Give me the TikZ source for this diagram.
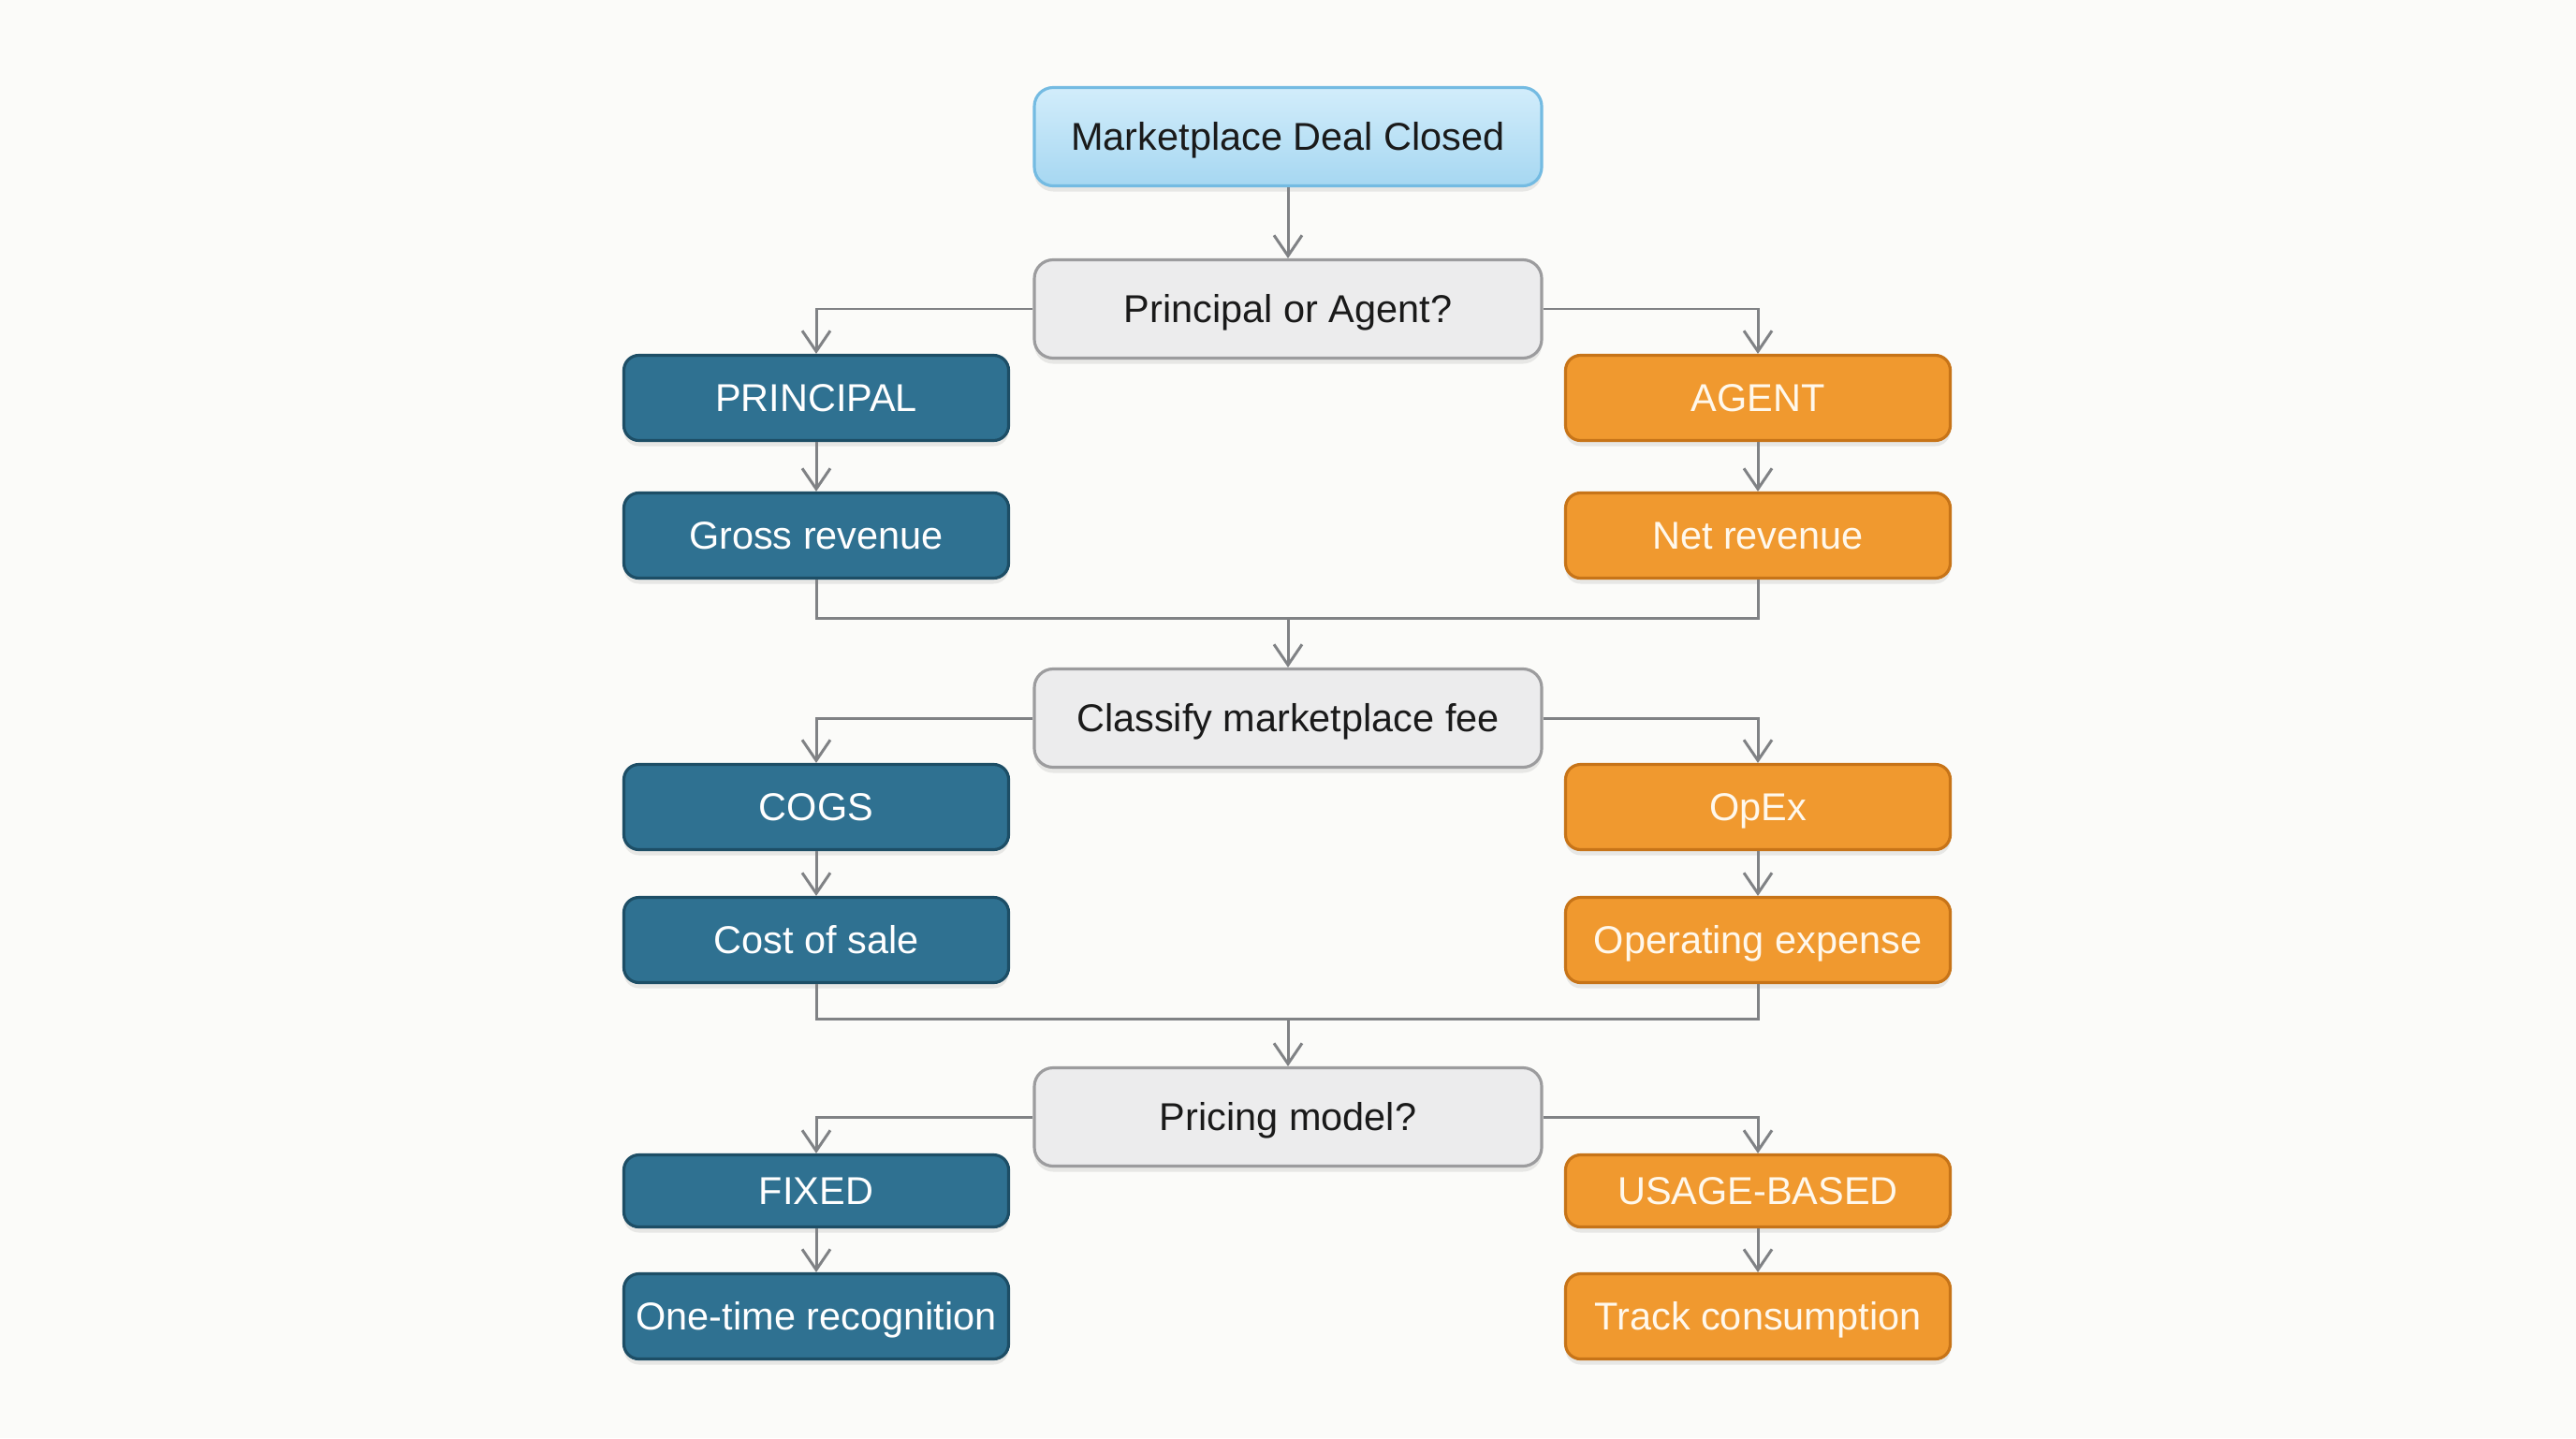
\documentclass[tikz,border=0pt]{standalone}
\usepackage{fontspec}
\setmainfont{Liberation Sans}
\usetikzlibrary{arrows.meta,shadows}
\definecolor{bg}{HTML}{FBFBF9}
\definecolor{tealf}{HTML}{2F7191}
\definecolor{tealb}{HTML}{1D4E66}
\definecolor{orf}{HTML}{F0992F}
\definecolor{orb}{HTML}{C77418}
\definecolor{grayf}{HTML}{ECECED}
\definecolor{grayb}{HTML}{9C9C9E}
\definecolor{bluet}{HTML}{D2EDFB}
\definecolor{blueb}{HTML}{A6D7F1}
\definecolor{bluebd}{HTML}{74BBE2}
\definecolor{conn}{HTML}{808285}
\definecolor{txt}{HTML}{1A1A1A}
\definecolor{cream}{HTML}{FFF8EC}
\tikzset{
  base/.style={rounded corners=1.6mm, line width=0.9pt, align=center,
    font=\fontsize{11.8}{14}\selectfont, inner sep=0pt,
    text height=8.5pt, text depth=0pt,
    drop shadow={opacity=0.16, shadow xshift=0mm, shadow yshift=-0.6mm}},
  mainbox/.style={base, minimum width=5.42cm, minimum height=1.05cm, rounded corners=2mm},
  startbox/.style={mainbox, draw=bluebd, top color=bluet, bottom color=blueb, text=txt},
  qbox/.style={mainbox, draw=grayb, fill=grayf, text=txt},
  tealbox/.style={base, minimum width=4.11cm, minimum height=0.91cm, draw=tealb, fill=tealf, text=white},
  orbox/.style={base, minimum width=4.11cm, minimum height=0.91cm, draw=orb, fill=orf, text=cream},
  shortbox/.style={minimum height=0.77cm},
  link/.style={draw=conn, line width=0.85pt},
  arr/.style={link, -{Straight Barb[length=2.2mm, width=3mm, line width=0.85pt]}}
}
\begin{document}
\begin{tikzpicture}
\fill[bg] (0,0) rectangle (27.52,-15.36);
\useasboundingbox (0,0) rectangle (27.52,-15.36);

\node[startbox] (a) at (13.76,-1.46) {Marketplace Deal Closed};
\node[qbox] (q1) at (13.76,-3.30) {Principal or Agent?};
\node[tealbox] (pr) at (8.72,-4.25) {PRINCIPAL};
\node[orbox] (ag) at (18.78,-4.25) {AGENT};
\node[tealbox] (gr) at (8.72,-5.72) {Gross revenue};
\node[orbox] (nr) at (18.78,-5.72) {Net revenue};
\coordinate (m1) at (13.76,-6.60);
\node[qbox] (cl) at (13.76,-7.67) {Classify marketplace fee};
\node[tealbox] (cogs) at (8.72,-8.62) {COGS};
\node[orbox] (opex) at (18.78,-8.62) {OpEx};
\node[tealbox] (cos) at (8.72,-10.04) {Cost of sale};
\node[orbox] (ope) at (18.78,-10.04) {Operating expense};
\coordinate (m2) at (13.76,-10.88);
\node[qbox] (pm) at (13.76,-11.93) {Pricing model?};
\node[tealbox, shortbox] (fx) at (8.72,-12.72) {FIXED};
\node[orbox, shortbox] (ub) at (18.78,-12.72) {USAGE-BASED};
\node[tealbox] (ot) at (8.72,-14.06) {One-time recognition};
\node[orbox] (tc) at (18.78,-14.06) {Track consumption};

\draw[arr] (a) -- (q1);
\draw[arr] (q1.west) -| (pr.north);
\draw[arr] (q1.east) -| (ag.north);
\draw[arr] (pr) -- (gr);
\draw[arr] (ag) -- (nr);
\draw[link] (gr.south) |- (m1) -| (nr.south);
\draw[arr] (m1) -- (cl.north);
\draw[arr] (cl.west) -| (cogs.north);
\draw[arr] (cl.east) -| (opex.north);
\draw[arr] (cogs) -- (cos);
\draw[arr] (opex) -- (ope);
\draw[link] (cos.south) |- (m2) -| (ope.south);
\draw[arr] (m2) -- (pm.north);
\draw[arr] (pm.west) -| (fx.north);
\draw[arr] (pm.east) -| (ub.north);
\draw[arr] (fx) -- (ot);
\draw[arr] (ub) -- (tc);
\end{tikzpicture}
\end{document}
